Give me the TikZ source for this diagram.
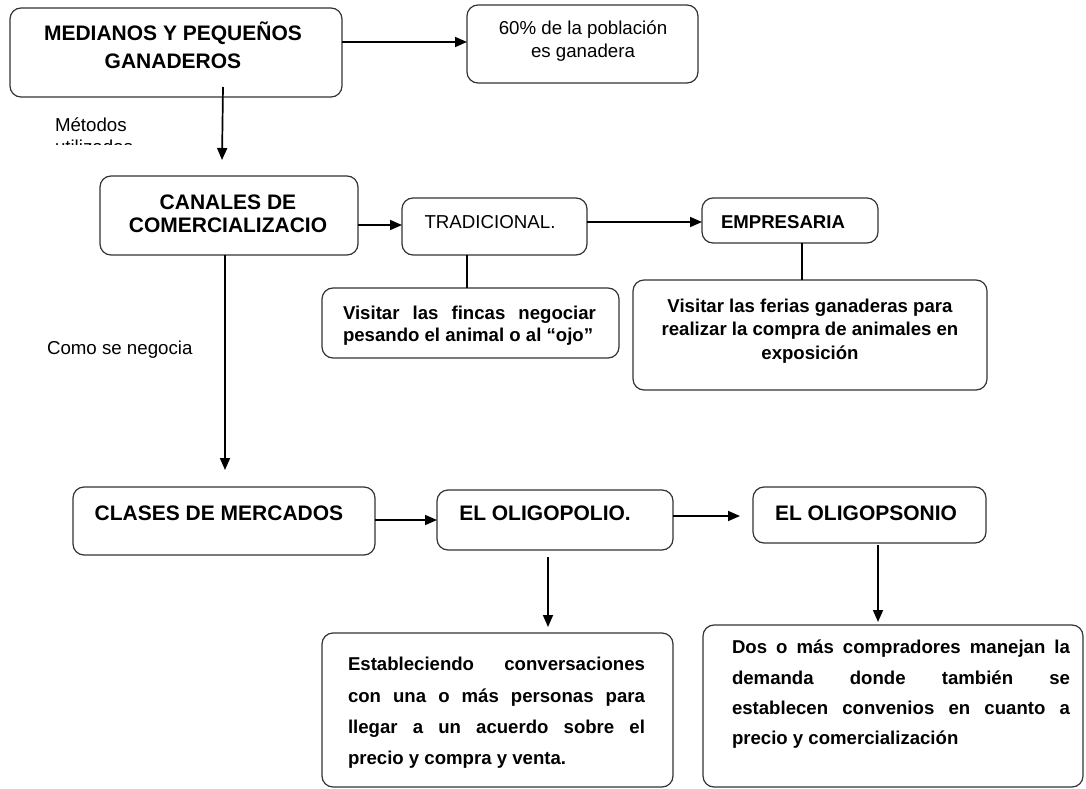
\documentclass[tikz,border=0pt]{standalone}
\usepackage{fontspec}
\setmainfont{Liberation Sans}
\usetikzlibrary{arrows.meta,calc}
\newcommand{\myBody}[1]{\fontsize{18.6}{#1}\selectfont\bfseries}
\newcommand{\myHead}[1]{\fontsize{21}{#1}\selectfont\bfseries}
\newcommand{\myReg}[1]{\fontsize{18.7}{#1}\selectfont}
\begin{document}
\begin{tikzpicture}[x=1pt,y=-1pt,
  box/.style={draw=black!80, line width=1.2pt, rounded corners=11pt, inner sep=0pt, outer sep=0pt},
  txt/.style={inner sep=0pt, outer sep=0pt},
  arr/.style={draw=black, line width=1.7pt, -{Triangle[length=12pt,width=10pt]}},
  lin/.style={draw=black, line width=1.4pt}]
\useasboundingbox[fill=white] (0,0) rectangle (1086,789);

% boxes
\node[box, minimum width=332pt, minimum height=89pt] (med) at (176,52.5) {};
\node[box, minimum width=231pt, minimum height=78pt] (pob) at (582.5,44) {};
\node[box, minimum width=258pt, minimum height=79pt] (can) at (229,215.5) {};
\node[box, minimum width=185pt, minimum height=57pt] (tra) at (494.5,226.5) {};
\node[box, minimum width=297pt, minimum height=70pt] (fin) at (470.5,323) {};
\node[box, minimum width=176pt, minimum height=45pt] (emp) at (790,220.5) {};
\node[box, minimum width=354pt, minimum height=110pt] (fer) at (810,335) {};
\node[box, minimum width=302pt, minimum height=68pt] (cla) at (224,521) {};
\node[box, minimum width=236pt, minimum height=60pt] (olp) at (555,520) {};
\node[box, minimum width=233pt, minimum height=56pt] (ols) at (869.5,515) {};
\node[box, minimum width=351pt, minimum height=154pt] (est) at (497.5,710) {};
\node[box, minimum width=380pt, minimum height=162pt] (dos) at (893,706) {};

% texts
\node[txt, font=\myHead{28}, align=center] (tmed) at (173,45.5) {MEDIANOS Y PEQUEÑOS\\GANADEROS};
\node[txt, font=\myReg{23}, align=center] (tpob) at (583,41.5) {60\% de la población\\es ganadera};
\node[txt, font=\myHead{23}, align=center] (tcan) at (228,213.5) {CANALES DE\\COMERCIALIZACIO};
\node[txt, font=\myReg{23}] (ttra) at (490,222) {TRADICIONAL.};
\node[txt, font=\myBody{22}, align=left] (tfin) at (469.5,326) {\makebox[253pt][s]{Visitar las fincas negociar}\\pesando el animal o al “ojo”};
\node[txt, font=\myBody{22}] (temp) at (783,222) {EMPRESARIA};
\node[txt, font=\myBody{23.5}, align=center] (tfer) at (810,331) {Visitar las ferias ganaderas para\\realizar la compra de animales en\\exposición};
\node[txt, font=\myHead{25}] (tcla) at (219,513) {CLASES DE MERCADOS};
\node[txt, font=\myHead{25}] (tolp) at (545,513) {EL OLIGOPOLIO.};
\node[txt, font=\myHead{25}] (tols) at (866,513) {EL OLIGOPSONIO};
\node[txt, font=\myBody{31.3}, align=left] (test) at (496.5,713) {\makebox[297pt][s]{Estableciendo conversaciones}\\\makebox[297pt][s]{con una o más personas para}\\\makebox[297pt][s]{llegar a un acuerdo sobre el}\\precio y compra y venta.};
\node[txt, font=\myBody{30.3}, align=left] (tdos) at (901,694.5) {\makebox[338pt][s]{Dos o más compradores manejan la}\\\makebox[338pt][s]{demanda donde también se}\\\makebox[338pt][s]{establecen convenios en cuanto a}\\precio y comercialización};

% labels
\begin{scope}
\clip (40,100) rectangle (200,144);
\node[txt, font=\myReg{22}, align=left, anchor=west] (tmet) at (55,136) {Métodos\\utilizados};
\end{scope}
\node[txt, font=\myReg{22}, anchor=west] (tcomo) at (47,350) {Como se negocia};

% connectors
\draw[arr] (med.east |- 0,42) -- (pob.west |- 0,42);
\draw[arr] ($(med.south)+(47,-10)$) -- ($(can.north)+(-7,-16)$);
\draw[arr] (can.east |- 0,225) -- (tra.west |- 0,225);
\draw[arr] (tra.east |- 0,222) -- (emp.west |- 0,222);
\draw[lin] (tra.south -| 467,0) -- (fin.north -| 467,0);
\draw[lin] (emp.south -| 802,0) -- (fer.north -| 802,0);
\draw[arr] (can.south -| 225,0) -- ($(cla.north -| 225,0)+(0,-17)$);
\draw[arr] (cla.east |- 0,520) -- (olp.west |- 0,520);
\draw[arr, shorten >=13pt] (olp.east |- 0,516) -- (ols.west |- 0,516);
\draw[arr, shorten <=7pt, shorten >=6pt] (olp.south -| 548,0) -- (est.north -| 548,0);
\draw[arr, shorten <=2pt, shorten >=3pt] (ols.south -| 878,0) -- (dos.north -| 878,0);
\end{tikzpicture}
\end{document}
